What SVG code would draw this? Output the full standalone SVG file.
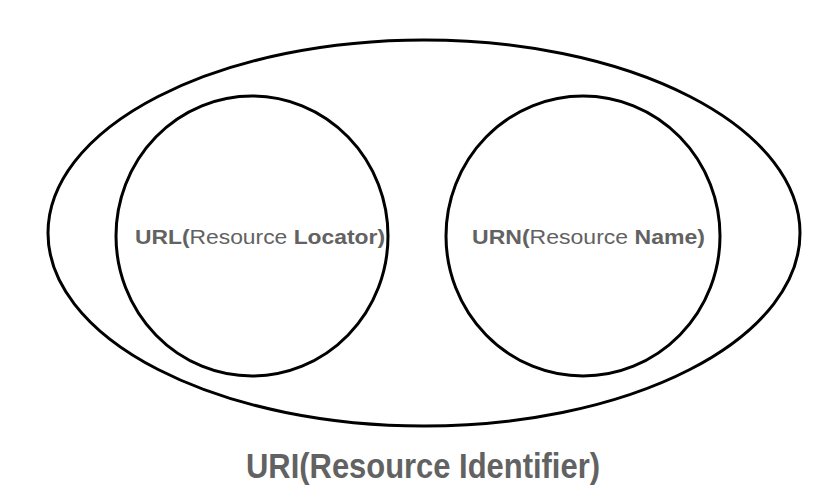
<svg xmlns="http://www.w3.org/2000/svg" width="816" height="493" viewBox="0 0 816 493">
<style>
.shape{fill:none;stroke:#000;stroke-width:3}
.lbl{font-family:"Liberation Sans",Arial,sans-serif;fill:#626262}
.b{font-weight:bold}
</style>
<rect width="816" height="493" fill="#fff"/>
<g id="uri">
<ellipse class="shape" cx="424" cy="233" rx="376" ry="193"/>
<text class="lbl b" x="246" y="478" font-size="35" textLength="354" lengthAdjust="spacingAndGlyphs">URI(Resource Identifier)</text>
</g>
<g id="url">
<ellipse class="shape" cx="252" cy="236" rx="136" ry="140"/>
<text class="lbl" x="135" y="244" font-size="21" textLength="250" lengthAdjust="spacingAndGlyphs"><tspan class="b">URL(</tspan>Resource <tspan class="b">Locator)</tspan></text>
</g>
<g id="urn">
<ellipse class="shape" cx="583" cy="236" rx="137" ry="140"/>
<text class="lbl" x="472" y="244" font-size="21" textLength="233" lengthAdjust="spacingAndGlyphs"><tspan class="b">URN(</tspan>Resource <tspan class="b">Name)</tspan></text>
</g>
<g id="connectors"/>
</svg>
